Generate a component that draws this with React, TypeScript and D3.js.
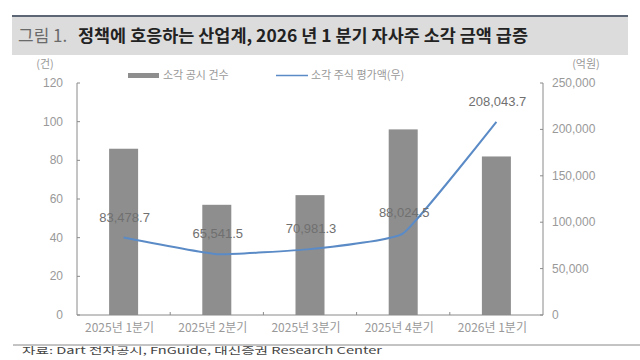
import React from "react";
import * as d3 from "d3";

const categories = ["2025년 1분기", "2025년 2분기", "2025년 3분기", "2025년 4분기", "2026년 1분기"];
const counts = [86, 57, 62, 96, 82];
const values = [83478.7, 65541.5, 70981.3, 88024.5, 208043.7];
const leftTicks = [0, 20, 40, 60, 80, 100, 120];
const rightTicks = [0, 50000, 100000, 150000, 200000, 250000];

const W = 640, H = 360;
const M = { left: 77, right: 543, top: 83, bottom: 315 };
const FONT = "'Liberation Sans', 'Noto Sans CJK KR', sans-serif";
const KFONT = "'Noto Sans CJK KR', sans-serif";

export default function App() {
  const x = d3.scaleBand<string>().domain(categories).range([M.left, M.right]).paddingInner(0).paddingOuter(0);
  const yL = d3.scaleLinear().domain([0, 120]).range([M.bottom, M.top]);
  const yR = d3.scaleLinear().domain([0, 250000]).range([M.bottom, M.top]);
  const bw = 29;
  const cx = (c: string) => (x(c) as number) + x.bandwidth() / 2;
  const line = d3.line<number>().x((_, i) => cx(categories[i])).y((v) => yR(v)).curve(d3.curveCardinal.tension(0.65));
  const fmt = d3.format(",.1f");
  const fmtT = d3.format(",");
  const axisColor = "#8a8a8a";
  const tickColor = "#999";

  return (
    <svg width={W} height={H} style={{ position: "absolute", left: 0, top: 0, background: "#fff" }}>
      {/* title band */}
      <rect x={12} y={16} width={616} height={39} fill="#dcdcdc" />
      <rect x={12} y={15} width={616} height={2} fill="#5d6675" />
      <text x={18} y={42} fontFamily={KFONT} fontSize={17} fill="#6a6a6a">그림 1.</text>
      <text x={78} y={42} fontFamily={KFONT} fontSize={17} fontWeight="bold" fill="#222" textLength={450} lengthAdjust="spacingAndGlyphs">
        정책에 호응하는 산업계, 2026 년 1 분기 자사주 소각 금액 급증
      </text>

      {/* unit labels */}
      <text x={45} y={68} textAnchor="middle" fontFamily={KFONT} fontSize={11} fill={tickColor}>(건)</text>
      <text x={586} y={68} textAnchor="middle" fontFamily={KFONT} fontSize={11} fill={tickColor}>(억원)</text>

      {/* legend */}
      <rect x={128} y={73} width={31} height={5} fill="#8e8e8e" />
      <text x={163} y={79} fontFamily={KFONT} fontSize={11} fill={tickColor}>소각 공시 건수</text>
      <line x1={276} x2={308} y1={75.5} y2={75.5} stroke="#5b8bc6" strokeWidth={1.5} />
      <text x={311} y={79} fontFamily={KFONT} fontSize={11} fill={tickColor}>소각 주식 평가액(우)</text>

      {/* bars */}
      {categories.map((c, i) => (
        <rect key={c} x={cx(c) - bw / 2} y={yL(counts[i])} width={bw} height={yL(0) - yL(counts[i])} fill="#8e8e8e" />
      ))}

      {/* axes */}
      <line x1={M.left} x2={M.left} y1={M.top} y2={M.bottom} stroke={axisColor} />
      <line x1={M.right} x2={M.right} y1={M.top} y2={M.bottom} stroke={axisColor} />
      <line x1={M.left} x2={M.right} y1={M.bottom} y2={M.bottom} stroke={axisColor} />
      {leftTicks.map((t) => (
        <g key={"l" + t}>
          <line x1={M.left} x2={M.left + 3} y1={yL(t)} y2={yL(t)} stroke={axisColor} />
          <text x={63} y={yL(t) + 4} textAnchor="end" fontFamily={FONT} fontSize={12} fill={tickColor}>{t}</text>
        </g>
      ))}
      {rightTicks.map((t) => (
        <g key={"r" + t}>
          <line x1={M.right - 3} x2={M.right} y1={yR(t)} y2={yR(t)} stroke={axisColor} />
          <text x={552} y={yR(t) + 4} textAnchor="start" fontFamily={FONT} fontSize={12} fill={tickColor}>{fmtT(t)}</text>
        </g>
      ))}
      {categories.slice(1).map((c) => (
        <line key={"x" + c} x1={x(c) as number} x2={x(c) as number} y1={M.bottom} y2={M.bottom - 3} stroke={axisColor} />
      ))}
      {categories.map((c) => (
        <text key={"xl" + c} x={cx(c) - 4} y={332} textAnchor="middle" fontFamily={KFONT} fontSize={12} fill={tickColor}>{c}</text>
      ))}

      {/* line */}
      <path d={line(values) || ""} fill="none" stroke="#5b8bc6" strokeWidth={2} />
      {values.map((v, i) => (
        <text key={"v" + i} x={cx(categories[i]) + 1} y={yR(v) - 16} textAnchor="middle" fontFamily={FONT} fontSize={13} fill="#707070">{fmt(v)}</text>
      ))}

      {/* footer */}
      <line x1={13} x2={640} y1={345} y2={345} stroke="#888" />
      <text x={22} y={354} fontFamily={KFONT} fontSize={9.5} fill="#444" textLength={360} lengthAdjust="spacingAndGlyphs">자료: Dart 전자공시, FnGuide, 대신증권 Research Center</text>
    </svg>
  );
}
